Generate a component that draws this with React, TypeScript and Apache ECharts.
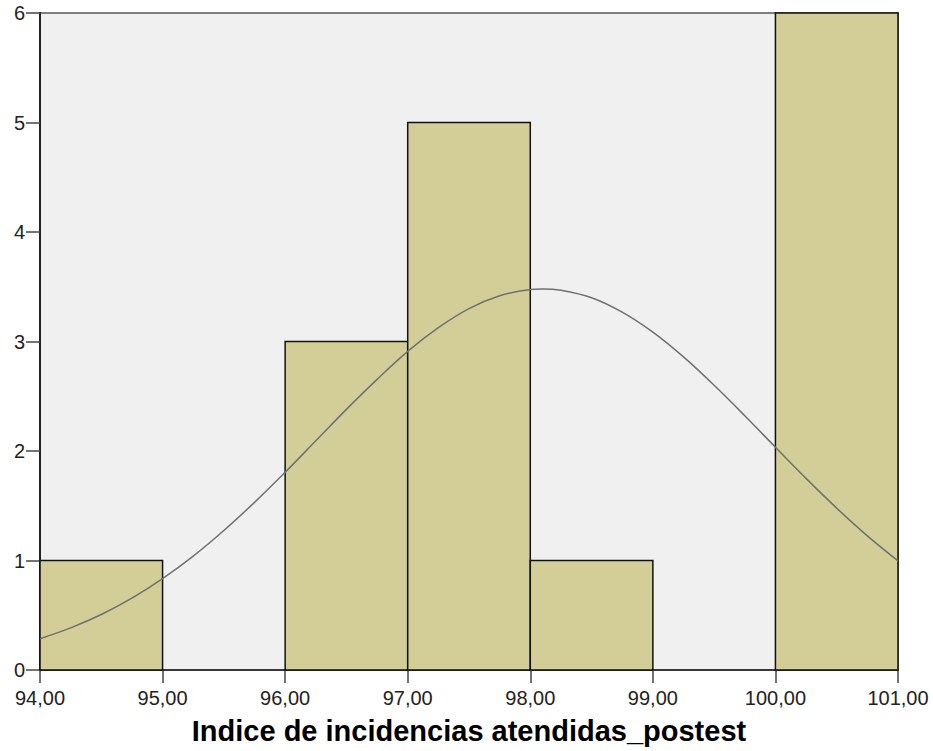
import React, { useEffect, useRef } from "react";
import * as echarts from "echarts";

const binStarts = [94, 95, 96, 97, 98, 99, 100];
const binEnds = [95, 96, 97, 98, 99, 100, 101];
const counts = [1, 0, 3, 5, 1, 0, 6];
const curveX = [
  94, 94.25, 94.5, 94.75, 95, 95.25, 95.5, 95.75, 96, 96.25, 96.5, 96.75, 97, 97.25, 97.5, 97.75,
  98, 98.1, 98.25, 98.5, 98.75, 99, 99.25, 99.5, 99.75, 100, 100.25, 100.5, 100.75, 101,
];
const curveY = [
  0.286, 0.385, 0.507, 0.656, 0.834, 1.04, 1.274, 1.531, 1.806, 2.093, 2.38, 2.654, 2.91, 3.126, 3.3, 3.417,
  3.475, 3.48, 3.468, 3.4, 3.268, 3.085, 2.859, 2.6, 2.322, 2.035, 1.75, 1.478, 1.225, 0.997,
];
const yTicks = [0, 1, 2, 3, 4, 5, 6];
const xTitle = "Indice de incidencias atendidas_postest";

const FONT = "'Liberation Sans', Arial, sans-serif";

export default function App() {
  const ref = useRef<HTMLDivElement>(null);
  useEffect(() => {
    document.body.style.margin = "0";
    if (!ref.current) return;
    const chart = echarts.init(ref.current, undefined, { renderer: "svg" });
    const barData = binStarts.map((s, i) => [s, binEnds[i], counts[i]]);
    chart.setOption({
      animation: false,
      grid: {
        left: 40,
        top: 13,
        right: 35,
        bottom: 81,
        containLabel: false,
        outerBoundsMode: "none",
        show: true,
        backgroundColor: "#F0F0F0",
        borderColor: "#555555",
        borderWidth: 1.5,
      },
      xAxis: {
        type: "value",
        min: 94,
        max: 101,
        interval: 1,
        name: xTitle,
        nameLocation: "middle",
        nameGap: 46,
        nameTextStyle: { fontFamily: FONT, fontSize: 29, fontWeight: "bold", color: "#000" },
        axisLine: { show: true, onZero: false, lineStyle: { color: "#222", width: 1.5 } },
        axisTick: { show: true, length: 13, lineStyle: { color: "#444", width: 1.5 } },
        axisLabel: {
          margin: 18,
          fontFamily: FONT,
          fontSize: 20,
          color: "#222",
          formatter: (v: number) => v.toFixed(2).replace(".", ","),
        },
        splitLine: { show: false },
      },
      yAxis: {
        type: "value",
        min: yTicks[0],
        max: yTicks[yTicks.length - 1],
        interval: 1,
        axisLine: { show: true, lineStyle: { color: "#222", width: 2 } },
        axisTick: { show: true, length: 14, lineStyle: { color: "#444", width: 1.5 } },
        axisLabel: { margin: 15, fontFamily: FONT, fontSize: 20, color: "#222" },
        splitLine: { show: false },
      },
      series: [
        {
          type: "custom",
          data: barData,
          encode: { x: [0, 1], y: 2 },
          renderItem: (params: any, api: any) => {
            const v = api.value(2);
            if (!v) return null;
            const p0 = api.coord([api.value(0), v]);
            const p1 = api.coord([api.value(1), 0]);
            return {
              type: "rect",
              shape: { x: p0[0], y: p0[1], width: p1[0] - p0[0], height: p1[1] - p0[1] },
              style: { fill: "#D3CE97", stroke: "#111", lineWidth: 1.5 },
            };
          },
          z: 2,
        },
        {
          type: "line",
          data: curveX.map((x, i) => [x, curveY[i]]),
          smooth: 0.35,
          showSymbol: false,
          lineStyle: { color: "#707070", width: 1.5 },
          z: 3,
        },
      ],
    });
    return () => chart.dispose();
  }, []);
  return <div ref={ref} style={{ width: 933, height: 751 }} />;
}
